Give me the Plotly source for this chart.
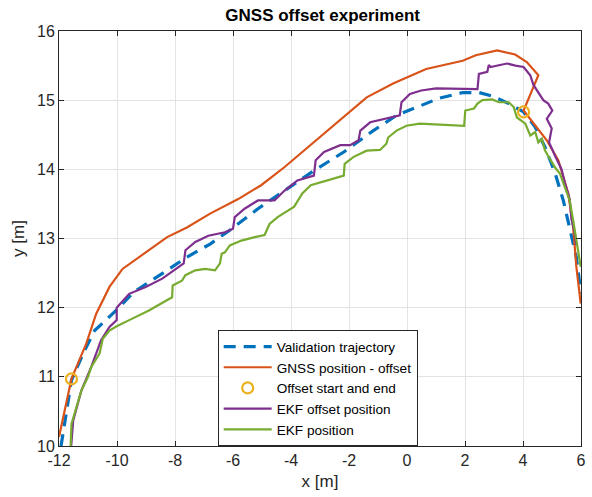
import plotly.graph_objects as go

# Validation trajectory
val_x = [-11.93, -11.75, -11.57, -11.12, -10.77, -10.03, -9.41, -8.38, -7.59, -6.79, -6.11, -5.14, -4.23, -3.21,
         -2.18, -1.16, -0.36, 0.32, 1.12, 1.92, 2.48, 2.94, 3.51, 4.02, 4.42, 4.76, 5.11, 5.39, 5.61, 5.84, 6.0]
val_y = [10.0, 10.5, 10.95, 11.38, 11.67, 11.96, 12.23, 12.51, 12.73, 12.92, 13.12, 13.43, 13.69, 13.98,
         14.25, 14.56, 14.78, 14.90, 15.03, 15.11, 15.11, 15.06, 14.95, 14.83, 14.61, 14.32, 13.94, 13.55, 13.16, 12.73, 12.2]

# GNSS position - offset
gnss_x = [-12.0, -11.74, -11.57, -11.06, -10.72, -10.26, -9.81, -9.07, -8.27, -7.59, -6.79, -5.82, -5.03, -4.23,
          -3.21, -2.18, -1.39, -0.48, 0.32, 0.66, 1.92, 2.37, 3.11, 3.73, 4.13, 4.53, 4.02, 4.36, 4.82, 5.22,
          5.56, 5.73, 5.84, 5.99]
gnss_y = [10.13, 10.66, 10.97, 11.48, 11.91, 12.30, 12.56, 12.78, 13.02, 13.16, 13.36, 13.57, 13.77, 14.03,
          14.39, 14.75, 15.04, 15.24, 15.38, 15.45, 15.57, 15.65, 15.72, 15.66, 15.55, 15.36, 14.85, 14.66, 14.42, 14.13,
          13.65, 13.16, 12.59, 12.06]

# Offset start and end
off_x = [-11.57, 4.02]
off_y = [10.97, 14.83]

# EKF offset position
ekfo_x = [-11.58, -11.51, -11.23, -10.89, -10.55, -10.26, -10.01, -10.01, -9.58, -9.01, -8.44, -7.70, -7.64, -7.30,
          -6.85, -6.28, -6.0, -5.94, -5.6, -5.14, -4.57, -4.23, -3.78, -3.21, -3.15, -2.86, -2.30, -1.96, -1.67,
          -1.61, -1.27, -0.81, -0.25, -0.19, 0.10, 0.49, 1.0, 2.43, 2.48, 2.77, 2.82, 2.88, 3.17, 3.45, 3.74, 4.02,
          4.25, 4.36, 4.70, 4.87, 5.01, 4.82, 4.99, 4.90, 5.10, 5.33, 5.44, 5.61, 5.67, 5.78, 5.84]
ekfo_y = [10.0, 10.37, 10.8, 11.14, 11.53, 11.72, 11.82, 12.0, 12.2, 12.30, 12.42, 12.64, 12.83, 12.95,
          13.04, 13.09, 13.14, 13.31, 13.43, 13.55, 13.55, 13.69, 13.84, 13.91, 14.13, 14.25, 14.35, 14.35, 14.42,
          14.56, 14.68, 14.73, 14.78, 14.97, 15.09, 15.14, 15.17, 15.16, 15.38, 15.41, 15.51, 15.48, 15.50, 15.53, 15.50, 15.48,
          15.36, 15.22, 15.0, 14.95, 14.85, 14.73, 14.59, 14.39, 14.20, 14.0, 13.81, 13.57, 13.28, 13.09, 12.90]

# EKF position
ekf_x = [-11.6, -11.57, -11.40, -11.23, -11.0, -10.89, -10.6, -10.49, -10.26, -10.01, -9.58, -8.90, -8.10, -8.08,
         -7.76, -7.64, -7.30, -6.96, -6.62, -6.45, -6.39, -6.28, -6.11, -5.71, -5.25, -4.91, -4.74, -4.46, -3.89,
         -3.61, -3.32, -2.75, -2.41, -2.18, -2.15, -1.84, -1.39, -0.93, -0.71, -0.65, -0.36, -0.02, 0.44, 1.12,
         1.97, 2.01, 2.31, 2.43, 2.60, 2.94, 3.17, 3.51, 3.68, 3.79, 4.08, 4.25, 4.42, 4.53, 4.65, 4.76, 4.93,
         5.10, 5.27, 5.44, 5.61, 5.73, 5.84, 5.99]
ekf_y = [9.99, 10.32, 10.56, 10.80, 11.0, 11.14, 11.34, 11.55, 11.67, 11.73, 11.82, 11.96, 12.15, 12.32,
         12.39, 12.47, 12.54, 12.56, 12.54, 12.64, 12.78, 12.80, 12.90, 12.97, 13.02, 13.05, 13.21, 13.31, 13.46,
         13.65, 13.77, 13.84, 13.89, 13.91, 14.08, 14.18, 14.27, 14.28, 14.37, 14.46, 14.56, 14.63, 14.66, 14.65,
         14.63, 14.85, 14.88, 14.95, 15.0, 15.01, 14.97, 14.97, 14.90, 14.75, 14.66, 14.49, 14.54, 14.39, 14.44, 14.27, 14.15,
         14.03, 13.94, 13.74, 13.55, 13.26, 12.97, 12.59]

x_ticks = [-12, -10, -8, -6, -4, -2, 0, 2, 4, 6]
y_ticks = [10, 11, 12, 13, 14, 15, 16]

FONT = "Liberation Sans, Arial, Helvetica, sans-serif"
AX = "#262626"

fig = go.Figure()
fig.add_trace(go.Scatter(x=val_x, y=val_y, mode="lines", name="Validation trajectory",
                         line=dict(color="#0072BD", width=3.2, dash="12px,8px")))
fig.add_trace(go.Scatter(x=gnss_x, y=gnss_y, mode="lines", name="GNSS position - offset",
                         line=dict(color="#D95319", width=2.2)))
fig.add_trace(go.Scatter(x=off_x, y=off_y, mode="markers", name="Offset start and end",
                         marker=dict(symbol="circle-open", size=11, color="#EDB120", line=dict(width=2.2, color="#EDB120"))))
fig.add_trace(go.Scatter(x=ekfo_x, y=ekfo_y, mode="lines", name="EKF offset position",
                         line=dict(color="#7E2F8E", width=2.2)))
fig.add_trace(go.Scatter(x=ekf_x, y=ekf_y, mode="lines", name="EKF position",
                         line=dict(color="#77AC30", width=2.2)))

axis_common = dict(showline=True, linecolor=AX, linewidth=1, mirror="allticks", ticks="inside", ticklen=5,
                   tickcolor=AX, tickwidth=1, showgrid=True, gridcolor="#E3E3E3", gridwidth=1, zeroline=False,
                   tickfont=dict(family=FONT, size=16, color=AX))

fig.update_layout(
    width=592, height=497,
    margin=dict(l=59, r=6, t=31, b=51),
    paper_bgcolor="white", plot_bgcolor="white",
    title=dict(text="<b>GNSS offset experiment</b>", x=0.545, xanchor="center", y=1 - 15 / 497, yanchor="middle",
               yref="container", font=dict(family=FONT, size=17, color="#000000")),
    xaxis=dict(range=[-12, 6], tickvals=x_ticks, ticktext=[str(v) for v in x_ticks],
               title=dict(text="x [m]", font=dict(family=FONT, size=17, color=AX), standoff=6), **axis_common),
    yaxis=dict(range=[10, 16], tickvals=y_ticks, ticktext=[str(v) for v in y_ticks],
               title=dict(text="y [m]", font=dict(family=FONT, size=17, color=AX), standoff=8), **axis_common),
    legend=dict(x=0.304, y=0.279, xanchor="left", yanchor="top", bgcolor="white", bordercolor=AX, borderwidth=1,
                font=dict(family=FONT, size=13.6, color="#000000"), tracegroupgap=0, itemwidth=48,
                entrywidth=0),
    showlegend=True,
)

fig.write_html("out.html")
